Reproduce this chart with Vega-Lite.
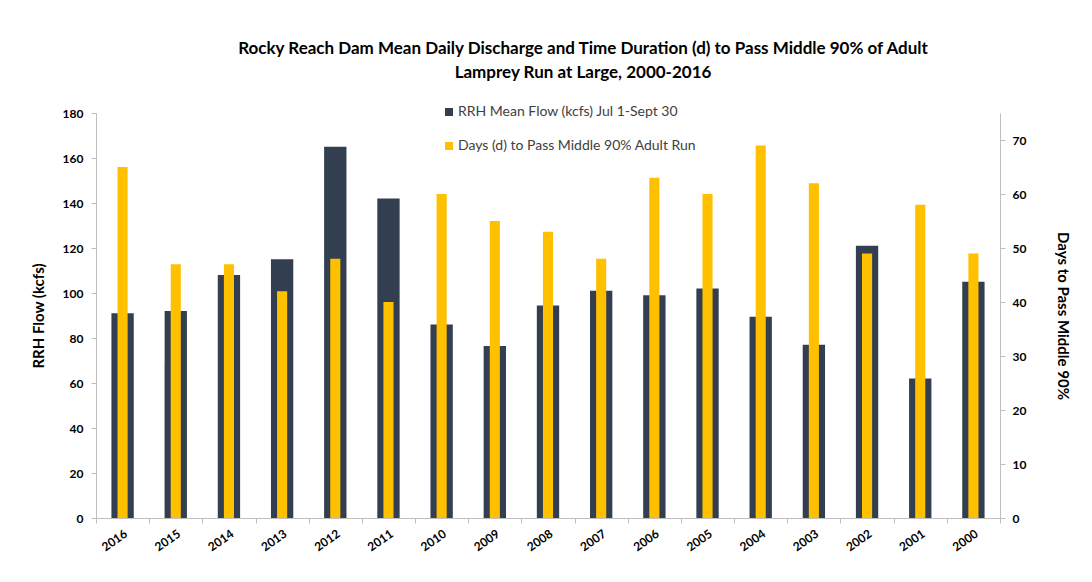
{
  "$schema": "https://vega.github.io/schema/vega-lite/v6.json",
  "autosize": "none",
  "width": 904,
  "height": 405,
  "padding": {"left": 96, "top": 113, "right": 92, "bottom": 64},
  "background": "white",
  "title": {
    "text": ["Rocky Reach Dam Mean Daily Discharge and Time Duration (d) to Pass Middle 90% of Adult", "Lamprey Run at Large, 2000-2016"],
    "anchor": "middle",
    "dx": 35,
    "offset": 23,
    "font": "Lato",
    "fontSize": 17,
    "fontWeight": "bold",
    "color": "#000000",
    "lineHeight": 24
  },
  "data": {
    "values": [
      {"year": "2016", "flow": 91, "days": 65},
      {"year": "2015", "flow": 92, "days": 47},
      {"year": "2014", "flow": 108, "days": 47},
      {"year": "2013", "flow": 115, "days": 42},
      {"year": "2012", "flow": 165, "days": 48},
      {"year": "2011", "flow": 142, "days": 40},
      {"year": "2010", "flow": 86, "days": 60},
      {"year": "2009", "flow": 76.5, "days": 55},
      {"year": "2008", "flow": 94.5, "days": 53},
      {"year": "2007", "flow": 101, "days": 48},
      {"year": "2006", "flow": 99, "days": 63},
      {"year": "2005", "flow": 102, "days": 60},
      {"year": "2004", "flow": 89.5, "days": 69},
      {"year": "2003", "flow": 77, "days": 62},
      {"year": "2002", "flow": 121, "days": 49},
      {"year": "2001", "flow": 62, "days": 58},
      {"year": "2000", "flow": 105, "days": 49}
    ]
  },
  "encoding": {
    "x": {
      "field": "year",
      "type": "nominal",
      "sort": null,
      "scale": {"paddingInner": 0, "paddingOuter": 0},
      "axis": {
        "title": null,
        "labelAngle": -35,
        "labelFont": "Lato",
        "labelFontSize": 12,
        "labelFontWeight": "bold",
        "labelColor": "#000000",
        "labelPadding": 5,
        "tickBand": "extent",
        "tickColor": "#bfbfbf",
        "tickSize": 5,
        "domainColor": "#bfbfbf"
      }
    }
  },
  "layer": [
    {
      "mark": {"type": "bar", "width": {"band": 0.42}},
      "encoding": {
        "y": {
          "field": "flow",
          "type": "quantitative",
          "scale": {"domain": [0, 180]},
          "axis": {
            "title": "RRH Flow (kcfs)",
            "values": [0, 20, 40, 60, 80, 100, 120, 140, 160, 180],
            "grid": false,
            "labelFont": "Lato",
            "labelFontSize": 12,
            "labelFontWeight": "bold",
            "labelColor": "#000000",
            "labelPadding": 8,
            "titleFont": "Lato",
            "titleFontSize": 15,
            "titleFontWeight": "bold",
            "titleColor": "#000000",
            "titlePadding": 16,
            "tickColor": "#bfbfbf",
            "tickSize": 5,
            "domainColor": "#bfbfbf"
          }
        },
        "color": {"datum": "RRH Mean Flow (kcfs) Jul 1-Sept 30"}
      }
    },
    {
      "mark": {"type": "bar", "width": {"band": 0.19}},
      "encoding": {
        "y": {
          "field": "days",
          "type": "quantitative",
          "scale": {"domain": [0, 75]},
          "axis": {
            "orient": "right",
            "title": "Days to Pass Middle 90%",
            "values": [0, 10, 20, 30, 40, 50, 60, 70],
            "grid": false,
            "labelFont": "Lato",
            "labelFontSize": 12,
            "labelFontWeight": "bold",
            "labelColor": "#000000",
            "labelPadding": 7,
            "titleFont": "Lato",
            "titleFontSize": 15,
            "titleFontWeight": "bold",
            "titleColor": "#000000",
            "titlePadding": 29,
            "tickColor": "#bfbfbf",
            "tickSize": 5,
            "domainColor": "#bfbfbf"
          }
        },
        "color": {"datum": "Days (d) to Pass Middle 90% Adult Run"}
      }
    }
  ],
  "resolve": {"scale": {"y": "independent"}, "axis": {"y": "independent"}},
  "config": {
    "view": {"stroke": null},
    "range": {"category": ["#333f50", "#ffc000"]},
    "legend": {
      "orient": "none",
      "legendX": 346,
      "legendY": -8,
      "title": null,
      "symbolType": "square",
      "symbolSize": 64,
      "symbolStrokeWidth": 0,
      "labelFont": "Lato",
      "labelFontSize": 14,
      "labelColor": "#404040",
      "labelOffset": 2,
      "rowPadding": 20,
      "labelLimit": 400
    }
  }
}
